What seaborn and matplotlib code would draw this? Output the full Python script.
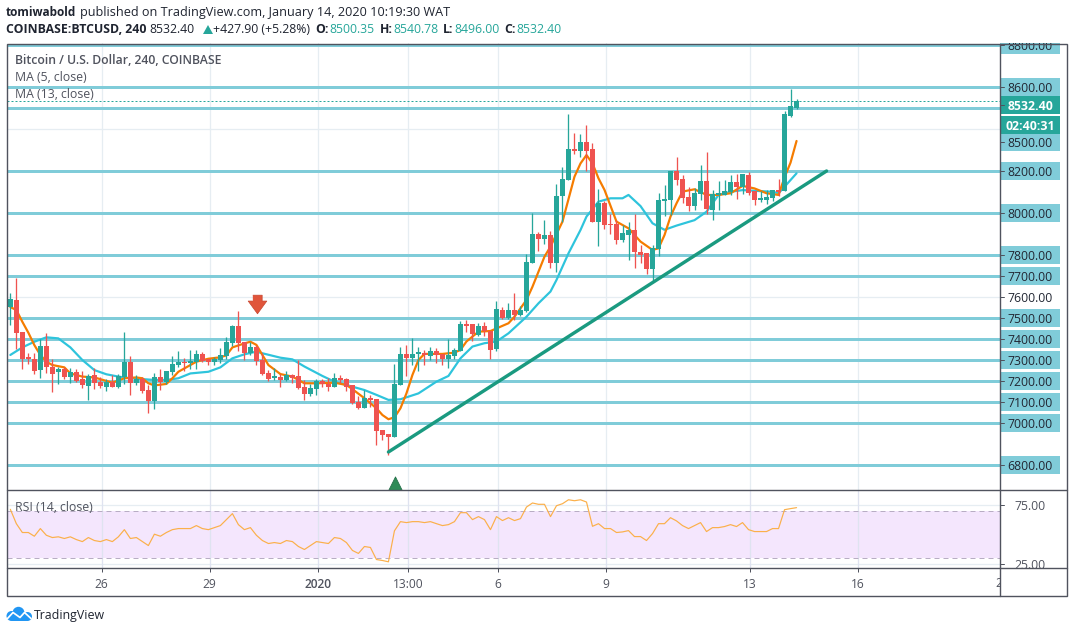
import numpy as np
import seaborn as sns
import matplotlib
matplotlib.use('Agg')
import matplotlib.pyplot as plt
from matplotlib.patches import Rectangle, Polygon, Circle

# candles, 4h bars, oldest first
opens = [7552,7586,7433,7314,7305,7252,7367,7267,7243,7257,7219,7243,7209,7176,7229,7195,7171,7195,7171,7219,7290,7190,7209,7157,7105,7219,7195,7243,7276,7290,7286,7290,7328,7306,7290,7300,7319,7381,7462,7386,7333,7362,
         7300,7238,7214,7219,7205,7229,7224,7171,7138,7162,7200,7186,7171,7214,7210,7181,7100,7072,7119,7114,6967,6948,6933,7181,7329,7310,7329,7333,7319,7343,7329,7305,7319,7343,7471,7471,7419,7462,7438,
         7352,7538,7500,7538,7514,7533,7762,7900,7876,7895,7762,8081,8157,8305,8295,8338,8305,7957,8048,7948,7948,7872,7895,7919,7814,7810,7734,7829,8057,8062,8200,8162,8076,8033,8091,8152,8014,8086,8086,8100,8148,8124,8181,8105,8062,8062,8072,8110,8105,8462,8500.35]
highs = [7619,7689,7433,7333,7333,7400,7428,7305,7267,7267,7262,7257,7248,7233,7262,7219,7209,7229,7233,7433,7319,7229,7219,7181,7238,7257,7248,7319,7343,7309,7348,7348,7338,7306,7314,7357,7409,7467,7533,7386,7386,7371,
         7332,7252,7262,7233,7248,7233,7300,7205,7186,7210,7210,7214,7238,7229,7214,7181,7129,7157,7133,7114,6967,6948,7281,7362,7371,7405,7362,7348,7362,7357,7329,7400,7357,7486,7490,7471,7476,7481,7438,
         7581,7553,7572,7619,7557,7805,8000,7910,7967,7914,8138,8219,8471,8381,8376,8419,8333,8114,8057,7995,7967,7943,7957,7995,7848,7810,7848,8095,8133,8200,8267,8181,8124,8119,8229,8291,8110,8152,8157,8181,8186,8186,8195,8105,8105,8110,8110,8162,8486,8590,8540.78]
lows = [7467,7351,7257,7281,7233,7214,7238,7148,7186,7209,7190,7195,7167,7110,7162,7167,7152,7171,7167,7186,7133,7181,7143,7048,7067,7157,7186,7229,7267,7248,7257,7257,7290,7276,7276,7286,7305,7367,7343,7300,7324,7276,
        7229,7200,7205,7171,7200,7190,7162,7110,7129,7133,7173,7152,7171,7190,7152,7090,7067,7072,7076,6895,6919,6848,6933,7181,7224,7276,7248,7276,7300,7286,7276,7262,7305,7343,7433,7390,7414,7414,7305,
        7343,7495,7495,7491,7510,7529,7762,7819,7852,7738,7719,7957,8157,8281,8267,8200,7957,7843,7924,7900,7852,7862,7776,7738,7762,7710,7672,7795,7986,7991,8133,8048,8010,8014,8062,7995,7967,8014,8086,8086,8067,8091,8086,8038,8053,8043,8057,8081,8105,8457,8496]
closes = [7590,7430,7305,7305,7248,7367,7267,7233,7257,7219,7243,7200,7181,7224,7190,7176,7195,7171,7224,7290,7190,7209,7152,7105,7219,7195,7248,7281,7290,7286,7295,7328,7295,7290,7306,7324,7386,7462,7381,7333,7362,7295,
          7233,7210,7224,7205,7229,7214,7167,7138,7167,7200,7186,7171,7214,7205,7171,7095,7072,7119,7110,6962,6943,6933,7186,7329,7310,7329,7338,7324,7343,7324,7305,7324,7348,7471,7462,7424,7462,7438,7348,
          7543,7500,7538,7514,7538,7767,7900,7876,7895,7762,8081,8162,8305,8295,8338,8295,7957,8048,7943,7943,7872,7905,7919,7814,7800,7734,7833,8062,8067,8200,8157,8072,8033,8095,8152,8019,8091,8095,8105,8148,8124,8186,8095,8062,8072,8076,8110,8100,8471,8510,8532.4]

# moving averages, read at their bends
ma5_x = [0,1,2,3,4,5,6,7,9,10,12,14,17,19,21,22,23,24,26,27,28,29,31,33,35,36,37,39,40,41,42,43,45,47,49,51,54,56,57,59,61,62,63,64,65,66,67,68,69,72,74,75,76,78,80,83,84,86,87,89,90,92,94,95,96,97,98,99,101,103,105,107,108,109,110,111,112,114,116,118,120,122,124,126,128,129,130,131]
ma5_y = [7552,7538,7482,7430,7371,7324,7292,7276,7265,7236,7221,7217,7192,7213,7217,7213,7189,7179,7186,7213,7244,7260,7292,7306,7313,7322,7360,7379,7387,7372,7324,7276,7233,7221,7189,7189,7192,7181,7161,7118,7070,7038,7018,7027,7070,7141,7229,7300,7329,7329,7335,7348,7388,7435,7438,7475,7506,7586,7649,7792,7840,7959,8173,8236,8276,8236,8165,8110,7959,7927,7864,7824,7832,7895,7983,8046,8102,8113,8086,8086,8094,8129,8117,8094,8086,8170,8240,8343]
ma13_x = [0,2,4,6,8,10,12,14,16,18,20,24,26,28,30,33,35,37,39,41,42,45,47,49,52,54,56,59,61,63,65,68,71,73,75,77,79,81,83,86,88,90,91,93,95,96,98,100,102,103,105,107,109,111,114,116,118,120,122,127,128,129,131]
ma13_y = [7324,7360,7387,7408,7403,7360,7300,7252,7232,7221,7213,7205,7205,7213,7236,7244,7265,7308,7327,7340,7332,7311,7303,7269,7224,7197,7181,7157,7134,7110,7113,7141,7197,7224,7308,7364,7380,7388,7427,7506,7570,7626,7681,7808,7919,7983,8054,8070,8070,8086,8033,7951,7920,7940,7966,8006,8086,8101,8109,8101,8094,8125,8189]

rsi = [71,59,51.6,51.6,48.5,54.9,49.3,47.4,48,46.6,48,45.7,44,47.4,44.9,44,45.7,44,48,54,46.6,47.4,44,40.7,50.2,48.5,51.6,54,54.9,54.9,54.9,57.4,54.9,54,55.7,57.4,62.4,67.4,58.2,54,55.7,49.3,44.9,42.4,43.2,42.4,44.9,44,39.9,37.4,40.7,44,43.2,42.4,47.4,46.6,43.2,36.6,34.1,39.9,39.1,29,28.2,27.1,53,60.7,59.9,60.7,60.7,59.9,60.7,59,57.4,58.2,60.7,68.2,68.2,62.4,64.9,62.4,54,64.9,61.6,64,61.6,63.2,72.9,76.3,75.2,75.2,64.9,74,75.7,79,78.2,79,77.1,56.8,59,54.9,54.9,51.6,52.1,53.2,48.2,48.2,44.9,50.7,59,59,64,61.3,57.4,54.9,57.4,59.9,52.4,55.7,55.7,56.6,58.2,56.6,59.9,54,52.4,52.4,52.4,54.9,54.9,70.7,71.6,72.4]

level_prices = [8800,8600,8500,8200,8000,7800,7700,7500,7400,7300,7200,7100,7000,6800]
grid_prices = [6800,7000,7200,7400,7600,7800,8000,8200,8400,8600,8800]
trend_x = [63,136]
trend_y = [6862,8200]
day_ticks = [15.2,33.2,51.2,66.3,81.2,99.2,123.2,141.2]
day_labels = ['26','29','2020','13:00','6','9','13','16']

W, H = 1073, 633
GREEN, RED = '#26a69a', '#ef5350'
LEVEL = '#80ccd9'
GRID = '#e6edf2'
FRAME = '#50535e'
PX = 0.72  # points per pixel at dpi 100
FONT = 'Open Sans'


def px_axes(fig, x0, y0, x1, y1, **kw):
    # axes from image pixels, y counted from the top
    return fig.add_axes([x0 / W, 1 - y1 / H, (x1 - x0) / W, (y1 - y0) / H], **kw)


def draw_candles(ax):
    x = np.arange(len(opens))
    o, h, l, c = map(np.array, (opens, highs, lows, closes))
    up = c >= o
    colors = np.where(up, GREEN, RED)
    ax.vlines(x, l, h, colors=colors, lw=1.3 * PX, zorder=4)
    ax.bar(x, np.maximum(np.abs(c - o), 5), bottom=np.minimum(o, c), width=0.84, color=colors, lw=0, zorder=5)


def draw_main(ax):
    for p in grid_prices:
        ax.axhline(p, color=GRID, lw=1.3 * PX, zorder=0)
    for t in day_ticks:
        ax.axvline(t, color=GRID, lw=1.3 * PX, zorder=0)
    for p in level_prices:
        ax.axhline(p, color=LEVEL, lw=3 * PX, zorder=1)
    sns.lineplot(x=ma13_x, y=ma13_y, ax=ax, color='#2ec4dc', lw=2.2 * PX, zorder=3)
    sns.lineplot(x=ma5_x, y=ma5_y, ax=ax, color='#f57c00', lw=2.2 * PX, zorder=3)
    draw_candles(ax)
    sns.lineplot(x=trend_x, y=trend_y, ax=ax, color='#1a9a80', lw=3.4 * PX, zorder=6)
    ax.axhline(closes[-1], color=GREEN, lw=1 * PX, ls=(0, (2, 2)), zorder=2)
    # study arrows
    ax.scatter([41.1], [7569], marker=[(-.5, 1), (.5, 1), (.5, .37), (1, .37), (0, -1), (-1, .37), (-.5, .37)],
               s=180, color='#e0553b', edgecolor='#c8452e', lw=0.5, zorder=7)
    ax.scatter([64.1], [6700], marker='^', s=190, color='#2e8b57', edgecolor='#24704a', lw=0.6, zorder=7)
    ax.set_xlim(-0.64, 164.9)
    ax.set_ylim(8600 - (490.3 - 87) / 0.21, 8600 + 44 / 0.21)
    ax.set(xticks=[], yticks=[], xlabel='', ylabel='')


def draw_rsi(ax):
    for p in [75, 25]:
        ax.axhline(p, color=GRID, lw=1.3 * PX, zorder=0)
    ax.axhspan(30, 70, color='#f4e6fd', lw=0, zorder=1)
    for t in day_ticks:
        ax.axvline(t, color='#dfe3f0', lw=1.3 * PX, zorder=2)
    for p in [70, 30]:
        ax.axhline(p, color='#b8adc4', lw=1 * PX, ls=(0, (5, 4)), zorder=3)
    sns.lineplot(x=np.arange(len(rsi)), y=rsi, ax=ax, color='#fbb04b', lw=1.2 * PX, zorder=4)
    ax.set_xlim(-0.64, 164.9)
    ax.set_ylim(75 - 64 / 1.2, 75 + 14.3 / 1.2)
    ax.set(xticks=[], yticks=[], xlabel='', ylabel='')


def draw_price_scale(ax):
    # 8500 sits lower on the scale because of the last price label
    shown = {p: p for p in level_prices}
    shown[8500] = 8338
    for p, y in shown.items():
        ax.add_patch(Rectangle((0, y - 43), 60, 86, color=LEVEL, lw=0))
    ax.add_patch(Rectangle((0, 8514 - 43), 60, 86, color=GREEN, lw=0, zorder=2))
    ax.add_patch(Rectangle((1, 8419 - 41), 59, 82, color=GREEN, lw=0, zorder=2))
    for y in list(shown.values()) + [7600, 8514]:
        ax.plot([0, 4], [y, y], color=FRAME, lw=1 * PX, zorder=3)
    for p, y in list(shown.items()) + [(7600, 7600)]:
        ax.text(30, y, f'{p:.2f}', ha='center', va='center_baseline', fontsize=12.2 * PX, color='#222733',
                family=FONT, clip_on=True)
    ax.text(30, 8514, f'{closes[-1]:.2f}', ha='center', va='center_baseline', fontsize=12.2 * PX,
            fontweight='bold', color='white', family=FONT, zorder=4)
    ax.text(30, 8419, '02:40:31', ha='center', va='center_baseline', fontsize=12.2 * PX,
            fontweight='bold', color='white', family=FONT, zorder=4)
    ax.set_xlim(0, 66)
    ax.axis('off')


def draw_rsi_scale(ax):
    for p in [75, 25]:
        ax.plot([0, 4], [p, p], color=FRAME, lw=1 * PX)
        ax.text(30, p, f'{p:.2f}', ha='center', va='center_baseline', fontsize=12.2 * PX, color=FRAME,
                family=FONT, clip_on=True)
    ax.set_xlim(0, 66)
    ax.axis('off')


def draw_time(ax):
    ax.set_xlim(-0.64, 164.9)
    ax.set_ylim(0, 1)
    ax.set_xticks(day_ticks, day_labels, family=FONT, fontsize=12 * PX, color=FRAME)
    ax.tick_params(axis='x', direction='in', length=3.5 * PX, width=1 * PX, color=FRAME, pad=-13, top=True, bottom=False,
                   labeltop=False, labelbottom=True)
    for lab in ax.get_xticklabels():
        if lab.get_text() == '2020':
            lab.set_fontweight('semibold')
    ax.set_yticks([])
    ax.text(165.2, 0.44, '20', ha='center', va='center', family=FONT, fontsize=12 * PX, color=FRAME, clip_on=True)
    for s in ax.spines.values():
        s.set_visible(False)


def draw_chrome(ax):
    ax.set_xlim(0, W)
    ax.set_ylim(H, 0)
    ax.axis('off')
    # frame
    ax.add_patch(Rectangle((6.5, 43.5), 1060, 552.5, fill=False, ec=FRAME, lw=1.4 * PX))
    for y in [490.3, 568.3]:
        ax.plot([6.5, 1066.5], [y, y], color=FRAME, lw=1.4 * PX)
    ax.plot([1000, 1000], [43.5, 596], color=FRAME, lw=1.4 * PX)
    # header
    s = 12.2 * PX
    dark = '#1f2430'
    ax.text(6, 12.5, 'tomiwabold', fontweight='bold', fontsize=11.8 * PX, color=dark, va='center', family=FONT)
    ax.text(80, 12.5, 'published on TradingView.com, January 14, 2020 10:19:30 WAT', fontsize=12.6 * PX, color=dark, va='center', family=FONT)
    ax.text(6, 29.5, 'COINBASE:BTCUSD, 240', fontweight='bold', fontsize=s, color=dark, va='center', family=FONT)
    ax.text(149.5, 29.5, '8532.40', fontsize=s, color=dark, va='center', family=FONT)
    ax.add_patch(Polygon([(203, 34), (213, 34), (208, 25)], color=GREEN, lw=0))
    ax.text(213, 29.5, '+427.90 (+5.28%)', fontsize=s, color=dark, va='center', family=FONT)
    for x, lab, vx, val in [(315, 'O:', 329, '8500.35'), (380, 'H:', 393, '8540.78'),
                            (443, 'L:', 454, '8496.00'), (504, 'C:', 516, '8532.40')]:
        ax.text(x, 29.5, lab, fontweight='bold', fontsize=s, color=dark, va='center', family=FONT)
        ax.text(vx, 29.5, val, fontsize=s, color=GREEN, va='center', family=FONT)
    # legends on the panes
    ax.text(15, 60.5, 'Bitcoin / U.S. Dollar, 240, COINBASE', fontweight='semibold', fontsize=s, color=FRAME, va='center', family=FONT)
    ax.text(15, 77.5, 'MA (5, close)', fontsize=s, color=FRAME, va='center', family=FONT)
    ax.text(15, 94.5, 'MA (13, close)', fontsize=s, color=FRAME, va='center', family=FONT)
    ax.text(15, 507.5, 'RSI (14, close)', fontsize=s, color=FRAME, va='center', family=FONT)
    # logo
    blue = '#2196f3'
    ax.add_patch(Circle((11.5, 616), 5, color=blue, lw=0))
    ax.add_patch(Circle((18.5, 612.8), 6, color=blue, lw=0))
    ax.add_patch(Circle((27.5, 616.5), 4.5, color=blue, lw=0))
    ax.add_patch(Rectangle((11.5, 615), 16, 6, color=blue, lw=0))
    ax.plot([7.5, 13, 20, 24.5, 31], [618.5, 612.5, 617.5, 612.5, 618.5], color='white', lw=1.7 * PX)
    ax.text(34, 615, 'TradingView', fontsize=12.4 * PX, color=dark, va='center', family=FONT)


def main():
    sns.set_theme(style='white')
    plt.rcParams['font.family'] = [FONT, 'DejaVu Sans']
    fig = plt.figure(figsize=(W / 100, H / 100), dpi=100)

    ax_main = px_axes(fig, 6.5, 43, 1000, 490.3)
    ax_rsi = px_axes(fig, 6.5, 490.3, 1000, 568.3)
    ax_time = px_axes(fig, 6.5, 568.3, 1000, 596)
    for a in (ax_main, ax_rsi):
        for s in a.spines.values():
            s.set_visible(False)
    draw_main(ax_main)
    draw_rsi(ax_rsi)
    draw_time(ax_time)

    ax_price = px_axes(fig, 1000, 43, 1066, 490.3, sharey=ax_main)
    draw_price_scale(ax_price)
    ax_rsi_scale = px_axes(fig, 1000, 490.3, 1066, 568.3, sharey=ax_rsi)
    draw_rsi_scale(ax_rsi_scale)

    ax_top = px_axes(fig, 0, 0, W, H)
    ax_top.patch.set_alpha(0)
    draw_chrome(ax_top)

    fig.savefig('out.png', dpi=100)


if __name__ == '__main__':
    main()
